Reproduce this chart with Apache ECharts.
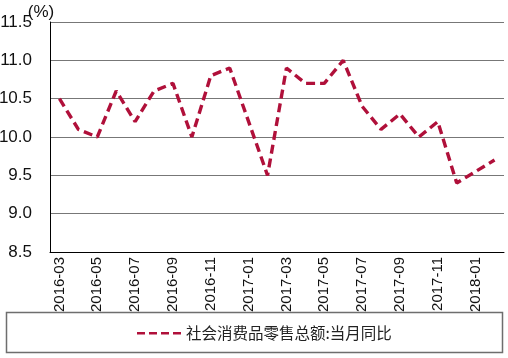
<!DOCTYPE html>
<html><head><meta charset="utf-8">
<script src="https://cdn.jsdelivr.net/npm/echarts@6/dist/echarts.min.js"></script>
<style>html,body{margin:0;padding:0;background:#fff}#c{width:508px;height:358px}</style>
</head><body><div id="c"></div>
<script>
const categories = ["2016-03","2016-04","2016-05","2016-06","2016-07","2016-08","2016-09","2016-10","2016-11","2016-12",
  "2017-01","2017-02","2017-03","2017-04","2017-05","2017-06","2017-07","2017-08","2017-09","2017-10","2017-11","2017-12",
  "2018-01","2018-02"];
const retailYoY = [10.5,10.1,10.0,10.6,10.2,10.6,10.7,10.0,10.8,10.9,
  null,9.5,10.9,10.7,10.7,11.0,10.4,10.1,10.3,10.0,10.2,9.4,
  null,9.7];
const seriesName = "社会消费品零售总额:当月同比";
const yMin = 8.5, yMax = 11.5, yStep = 0.5;
const numFont = '"Liberation Sans Narrow", "Liberation Sans", Arial, sans-serif';

const chart = echarts.init(document.getElementById('c'), null, {renderer:'canvas'});
chart.setOption({
  animation:false,
  backgroundColor:'#fff',
  grid:{left:50,right:4,top:22,bottom:106,outerBoundsMode:'none',containLabel:false},
  graphic:[{type:'rect',shape:{x:6.5,y:312.5,width:496,height:40},style:{fill:'none',stroke:'#6e6e6e',lineWidth:1.5}}],
  legend:{
    bottom:12,left:132,
    itemWidth:44,itemHeight:10,itemGap:5,
    textStyle:{fontFamily:'"Noto Sans CJK SC"',fontSize:15.5,color:'#222'},
    data:[{name:seriesName,icon:'path://M0,4h8v2.4h-8z M12,4h8v2.4h-8z M24,4h8v2.4h-8z M36,4h8v2.4h-8z'}]
  },
  xAxis:{
    type:'category',data:categories,boundaryGap:true,
    axisLine:{lineStyle:{color:'#000',width:1}},
    axisTick:{interval:1,length:5,lineStyle:{color:'#000'}},
    axisLabel:{interval:1,rotate:90,fontFamily:numFont,fontSize:15,color:'#111',margin:5}
  },
  yAxis:{
    type:'value',min:yMin,max:yMax,interval:yStep,
    name:'(%)',nameLocation:'end',nameGap:10,nameMoveOverlap:false,
    nameTextStyle:{fontFamily:numFont,fontSize:17,color:'#111',align:'center',verticalAlign:'middle',padding:[0,18,0,0]},
    axisLine:{show:true,lineStyle:{color:'#000',width:1}},
    axisTick:{show:false},
    axisLabel:{fontFamily:numFont,fontSize:17,color:'#111',margin:18,formatter:v=>v.toFixed(1)},
    splitLine:{lineStyle:{color:'#777',width:1}}
  },
  series:[{
    name:seriesName,type:'line',data:retailYoY,connectNulls:true,
    showSymbol:false,symbol:'none',
    lineStyle:{color:'#b0103a',width:3.4,type:[9,5]},
    itemStyle:{color:'#b0103a'}
  }]
});
</script></body></html>
